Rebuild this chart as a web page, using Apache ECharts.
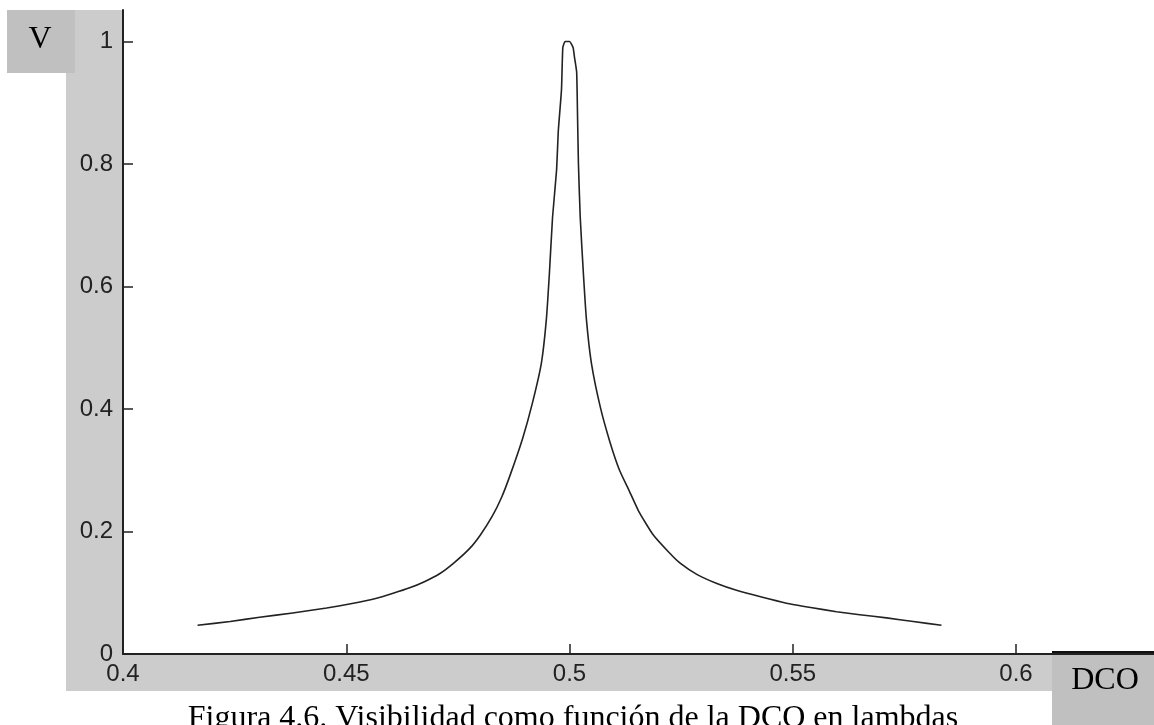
<!DOCTYPE html>
<html>
<head>
<meta charset="utf-8">
<script src="https://cdn.jsdelivr.net/npm/echarts@6/dist/echarts.min.js"></script>
<style>
html,body{margin:0;padding:0;background:#fff;}
#chart{width:1154px;height:725px;}
</style>
</head>
<body>
<div id="chart"></div>
<script>
// DCO (en lambdas)
var dco = [0.4167,0.4240,0.4306,0.4380,0.4456,0.4510,0.4568,0.4605,0.4642,0.4675,0.4709,0.4740,0.4776,0.4800,0.4827,0.4848,0.4866,0.4895,0.4917,0.4937,0.4948,0.4955,0.4962,0.4971,0.4975,0.4982,0.4985,0.4990,0.5000,0.5008,0.5011,0.5016,0.5018,0.5020,0.5024,0.5031,0.5038,0.5049,0.5069,0.5091,0.5112,0.5134,0.5155,0.5186,0.5224,0.5250,0.5285,0.5330,0.5374,0.5430,0.5486,0.5540,0.5598,0.5650,0.5710,0.5770,0.5833];
// Visibilidad
var vis = [0.047,0.053,0.060,0.067,0.075,0.082,0.091,0.099,0.108,0.118,0.131,0.148,0.172,0.194,0.225,0.256,0.290,0.352,0.410,0.475,0.545,0.622,0.713,0.790,0.855,0.921,0.990,1.000,1.000,0.990,0.975,0.950,0.877,0.800,0.713,0.622,0.545,0.475,0.403,0.345,0.300,0.266,0.233,0.196,0.165,0.147,0.130,0.115,0.104,0.093,0.083,0.076,0.069,0.064,0.059,0.053,0.047];
var xTicks = [0.4,0.45,0.5,0.55,0.6];
var yTicks = [0,0.2,0.4,0.6,0.8,1];
var yLabel = 'V';
var xLabel = 'DCO';
var caption = 'Figura 4.6. Visibilidad como función de la DCO en lambdas';

var points = dco.map(function(x,i){return [x, vis[i]];});
var chart = echarts.init(document.getElementById('chart'), null, {renderer:'canvas'});
var axisFont = {fontFamily:'Liberation Sans', fontSize:24, color:'#222'};
chart.setOption({
  animation:false,
  backgroundColor:'#fff',
  grid:{left:123, top:10, right:0, bottom:71, containLabel:false},
  xAxis:{
    type:'value', min:0.4, max:0.6309,
    splitLine:{show:false},
    axisLine:{show:true, onZero:false, lineStyle:{color:'#222', width:2}},
    axisTick:{show:true, inside:true, length:10, customValues:xTicks, lineStyle:{color:'#222', width:1.5}},
    axisLabel:Object.assign({customValues:xTicks, margin:8, formatter:function(v){return String(+v.toFixed(2));}}, axisFont)
  },
  yAxis:{
    type:'value', min:0, max:1.0514,
    splitLine:{show:false},
    axisLine:{show:true, onZero:false, lineStyle:{color:'#222', width:2}},
    axisTick:{show:true, inside:true, length:10, customValues:yTicks, lineStyle:{color:'#222', width:1.5}},
    axisLabel:Object.assign({customValues:yTicks, margin:10, formatter:function(v){return String(+v.toFixed(1));}}, axisFont)
  },
  series:[{
    type:'line', data:points, showSymbol:false, smooth:0.15,
    lineStyle:{color:'#222', width:1.6, join:'round'}
  }],
  graphic:[
    {type:'rect', z:-10, shape:{x:66, y:10, width:57, height:645}, style:{fill:'#cccccc'}},
    {type:'rect', z:-10, shape:{x:66, y:654, width:986, height:37}, style:{fill:'#cccccc'}},
    {type:'rect', z:-9, shape:{x:7, y:10, width:68, height:63}, style:{fill:'#c0c0c0'}},
    {type:'rect', z:-9, shape:{x:1052, y:652, width:102, height:73}, style:{fill:'#c0c0c0'}},
    {type:'line', z:-8, shape:{x1:1052, y1:652.5, x2:1154, y2:652.5}, style:{stroke:'#111', lineWidth:3}},
    {type:'text', z:10, x:40, y:40, style:{text:yLabel, font:'32px "Liberation Serif"', fill:'#000', align:'center', verticalAlign:'middle'}},
    {type:'text', z:10, x:1105, y:681, style:{text:xLabel, font:'32px "Liberation Serif"', fill:'#000', align:'center', verticalAlign:'middle'}},
    {type:'text', z:10, x:573, y:719, style:{text:caption, font:'32px "Liberation Serif"', fill:'#000', align:'center', verticalAlign:'middle'}}
  ]
});
</script>
</body>
</html>
